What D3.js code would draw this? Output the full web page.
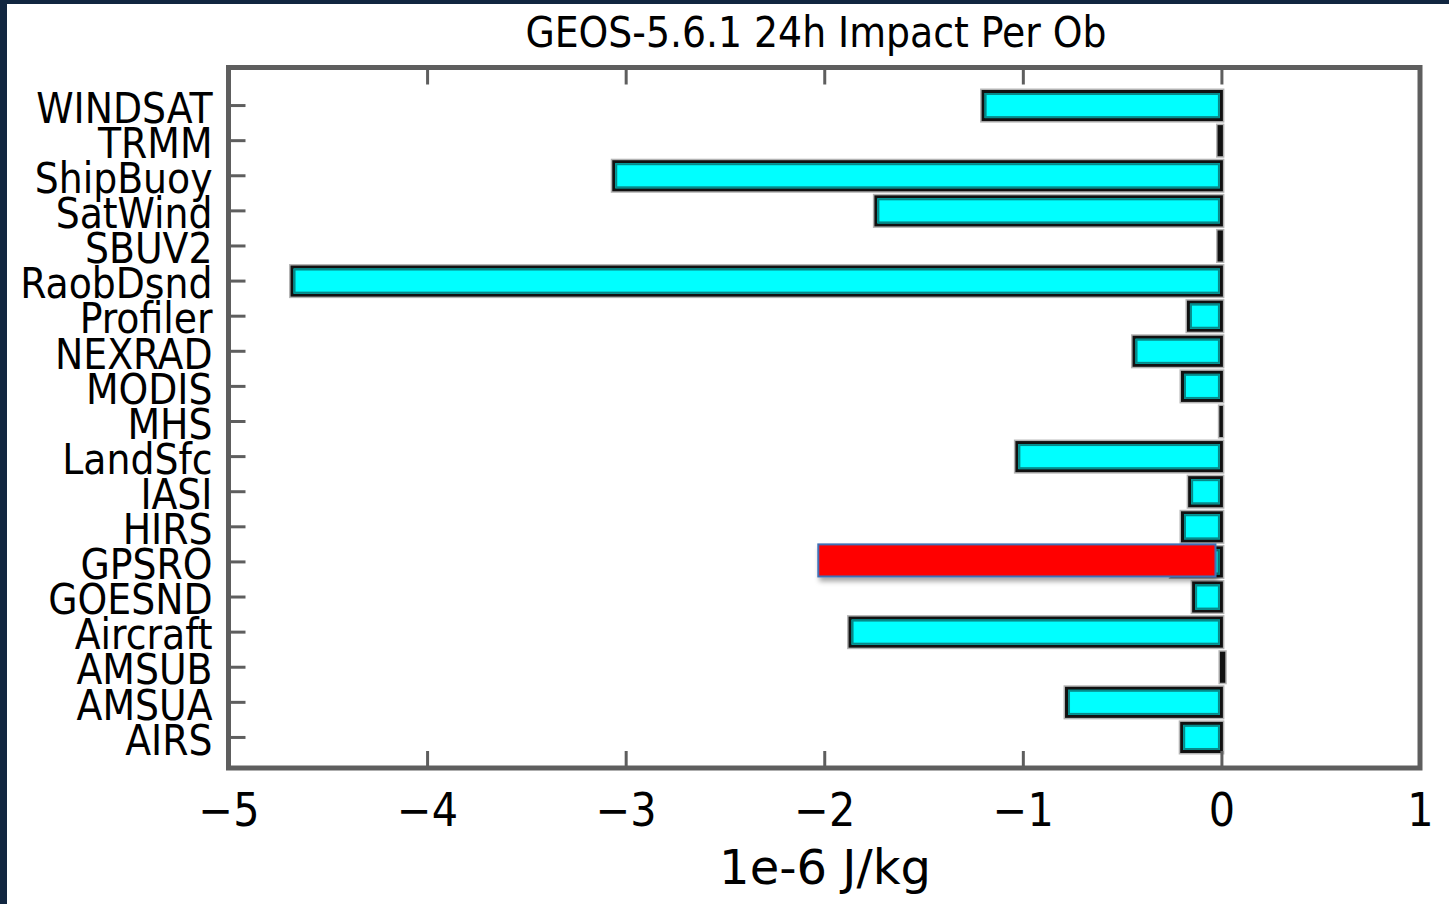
<!DOCTYPE html>
<html>
<head>
<meta charset="utf-8">
<script src="https://cdn.jsdelivr.net/npm/d3@7"></script>
<style>
  html, body { margin: 0; padding: 0; background: #112640; }
  svg { display: block; }
  .lbl { font-family: 'DejaVu Sans Condensed', 'DejaVu Sans', sans-serif; fill: #000; }
</style>
</head>
<body>
<div class="chart"></div>
<script>
// obs types, top to bottom
const categories = ['WINDSAT', 'TRMM', 'ShipBuoy', 'SatWind', 'SBUV2', 'RaobDsnd', 'Profiler',
  'NEXRAD', 'MODIS', 'MHS', 'LandSfc', 'IASI', 'HIRS', 'GPSRO', 'GOESND', 'Aircraft',
  'AMSUB', 'AMSUA', 'AIRS']

// impact per ob, 1e-6 J/kg
const impact = [-1.2, -0.012, -3.06, -1.74, -0.012, -4.68, -0.166,
  -0.44, -0.196, -0.003, -1.03, -0.16, -0.196, -0.25, -0.14, -1.87,
  0.012, -0.78, -0.2]

const xTicks = [-5, -4, -3, -2, -1, 0, 1]

// red box pasted over the GPSRO row
const highlight = { cat: 'GPSRO', from: -2.03, to: -0.03 }

const width = 1449
const height = 904

const svg = d3.select('.chart')
  .append('svg')
  .attr('width', width)
  .attr('height', height)

// white panel inside the navy border
svg.append('rect')
  .attr('x', 7)
  .attr('y', 4)
  .attr('width', width - 7)
  .attr('height', height - 4)
  .attr('fill', '#ffffff')

const pLeft = 228.5, pRight = 1420, pTop = 67.5, pBottom = 768

const x = d3.scaleLinear()
  .domain([-5, 1])
  .range([pLeft, pRight])

const y = d3.scaleBand()
  .domain(categories)
  .range([88, 755])
  .paddingInner(0.2)
  .paddingOuter(0.1)

const defs = svg.append('defs')
const shadow = defs.append('filter')
  .attr('id', 'shadow')
  .attr('x', '-10%').attr('y', '-50%')
  .attr('width', '120%').attr('height', '200%')
shadow.append('feDropShadow')
  .attr('dx', 2).attr('dy', 4)
  .attr('stdDeviation', 2.5)
  .attr('flood-color', '#000')
  .attr('flood-opacity', 0.35)

// bars
const rows = categories.map((c, i) => ({ cat: c, val: impact[i] }))

const bars = svg.append('g')

bars.selectAll('.halo')
  .data(rows)
  .enter()
  .append('rect')
  .attr('x', d => Math.min(x(d.val), x(0)) - 2)
  .attr('y', d => y(d.cat) - 2)
  .attr('width', d => Math.abs(x(d.val) - x(0)) + 4)
  .attr('height', y.bandwidth() + 4)
  .style('fill', 'none')
  .style('stroke', '#b4b4b4')
  .style('stroke-width', 2)

bars.selectAll('.bar')
  .data(rows)
  .enter()
  .append('rect')
  .attr('x', d => Math.min(x(d.val), x(0)))
  .attr('y', d => y(d.cat))
  .attr('width', d => Math.abs(x(d.val) - x(0)))
  .attr('height', y.bandwidth())
  .style('fill', '#00ffff')
  .style('stroke', '#111111')
  .style('stroke-width', 3)

bars.selectAll('.inner')
  .data(rows.filter(d => Math.abs(x(d.val) - x(0)) > 8))
  .enter()
  .append('rect')
  .attr('x', d => Math.min(x(d.val), x(0)) + 2.5)
  .attr('y', d => y(d.cat) + 2.5)
  .attr('width', d => Math.abs(x(d.val) - x(0)) - 5)
  .attr('height', y.bandwidth() - 5)
  .style('fill', 'none')
  .style('stroke', '#078a8a')
  .style('stroke-width', 2)

// axes
const axisStyle = g => {
  g.select('.domain').remove()
  g.selectAll('.tick line').attr('stroke', '#5e5e5e').attr('stroke-width', 3)
}

svg.append('g')
  .attr('transform', `translate(0,${pBottom})`)
  .call(d3.axisBottom(x).tickValues(xTicks).tickSize(-17).tickPadding(25)
    .tickFormat(d => d < 0 ? '\u2212' + Math.abs(d) : d))
  .call(axisStyle)
  .call(g => g.selectAll('text').attr('class', 'lbl').style('font-size', '46px'))

svg.append('g')
  .attr('transform', `translate(0,${pTop})`)
  .call(d3.axisTop(x).tickValues(xTicks).tickSize(-17).tickFormat(''))
  .call(axisStyle)

svg.append('g')
  .attr('transform', `translate(${pLeft},0)`)
  .call(d3.axisLeft(y).tickSize(-17).tickPadding(16))
  .call(axisStyle)
  .call(g => g.selectAll('text').attr('class', 'lbl').attr('dy', '0.41em').style('font-size', '42px'))

// frame
svg.append('rect')
  .attr('x', pLeft)
  .attr('y', pTop)
  .attr('width', pRight - pLeft)
  .attr('height', pBottom - pTop)
  .style('fill', 'none')
  .style('stroke', '#5e5e5e')
  .style('stroke-width', 5)

// red annotation box
svg.append('rect')
  .attr('x', x(highlight.from))
  .attr('y', y(highlight.cat) - 3.5)
  .attr('width', x(highlight.to) - x(highlight.from))
  .attr('height', y.bandwidth() + 4)
  .style('fill', '#ff0000')
  .style('stroke', '#3f6fb5')
  .style('stroke-width', 2)
  .attr('filter', 'url(#shadow)')

svg.append('text')
  .attr('class', 'lbl')
  .attr('x', 816)
  .attr('y', 47)
  .attr('text-anchor', 'middle')
  .style('font-size', '42px')
  .text('GEOS-5.6.1 24h Impact Per Ob')

svg.append('text')
  .attr('class', 'lbl')
  .attr('x', 825)
  .attr('y', 884)
  .attr('text-anchor', 'middle')
  .style('font-family', "'DejaVu Sans', sans-serif")
  .style('font-size', '48px')
  .text('1e-6 J/kg')
</script>
</body>
</html>
